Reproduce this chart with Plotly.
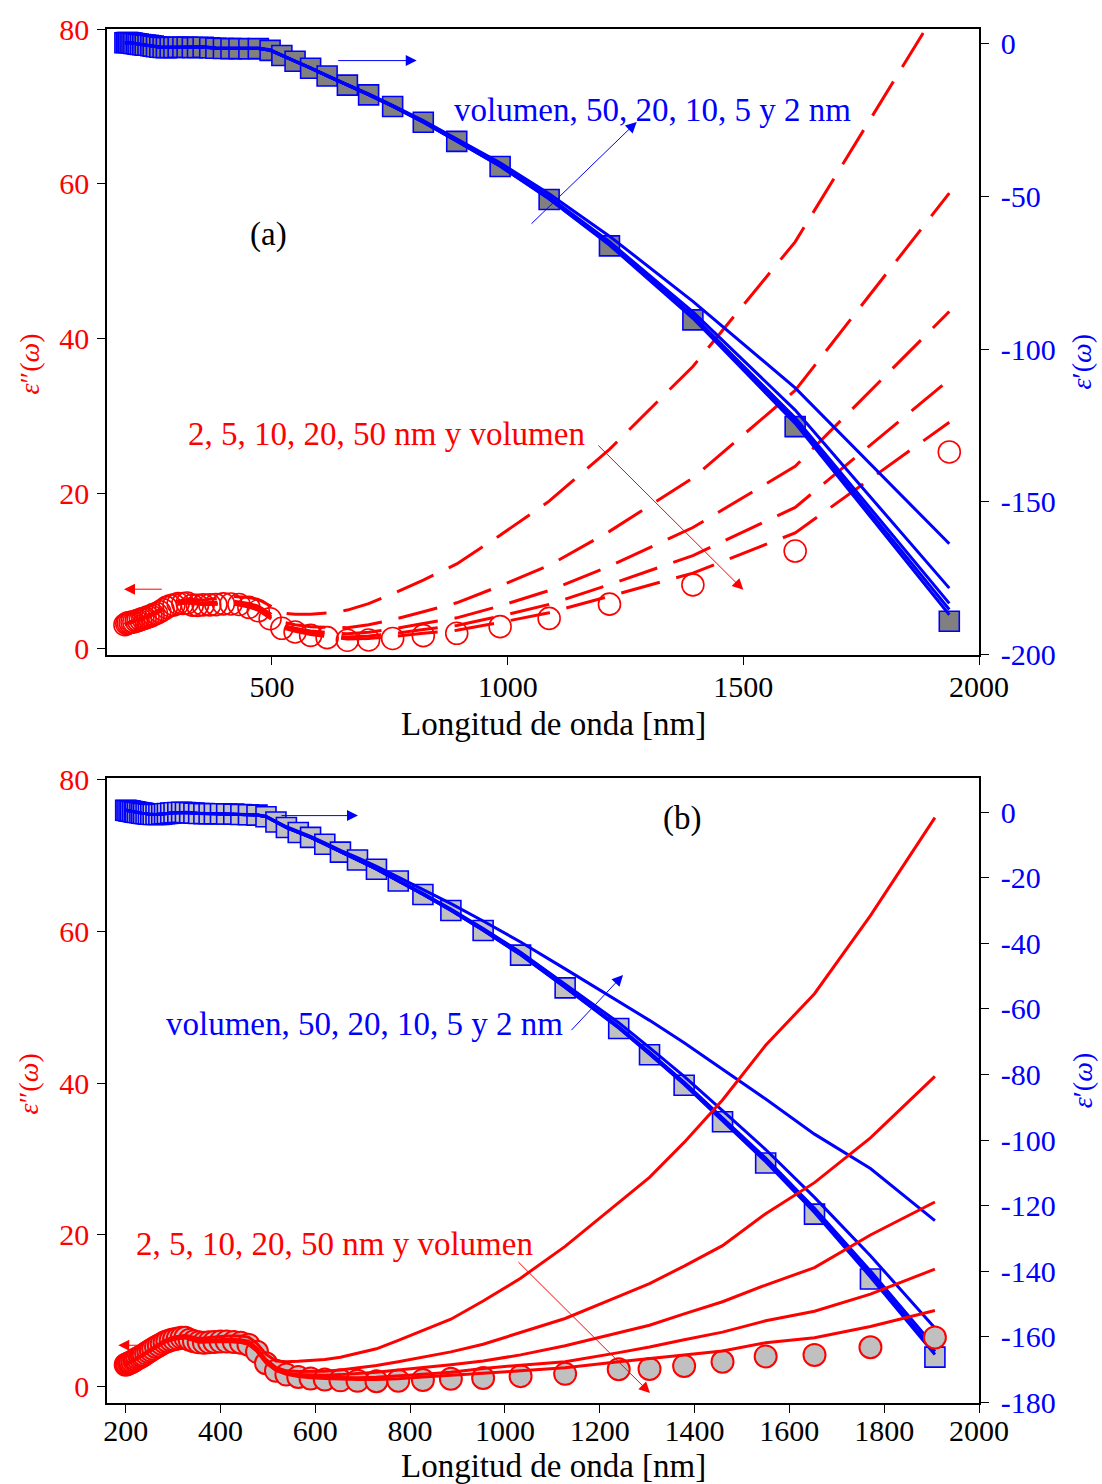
import plotly.graph_objects as go

RED = "#ff0000"
BLUE = "#0000ff"
SERIF = "Liberation Serif"

# ---------------- panel (a): bulk gold, measured ----------------
wl_a = [188, 192, 195, 199, 203, 207, 212, 216, 221, 226, 231, 237, 243, 248, 255,
        262, 269, 276, 284, 292, 301, 311, 320, 331, 342, 354, 368, 381, 397, 413,
        430, 451, 471, 496, 521, 549, 582, 617, 660, 705, 756, 821, 892, 984, 1088,
        1216, 1393, 1610, 1937]
eps_im_a = [3.04, 3.18, 3.29, 3.33, 3.40, 3.39, 3.51, 3.61, 3.71, 3.83, 3.89, 4.06, 4.16, 4.34, 4.49,
            4.72, 4.98, 5.28, 5.49, 5.60, 5.78, 5.79, 5.85, 5.57, 5.54, 5.60, 5.61, 5.64, 5.74, 5.72,
            5.65, 5.28, 4.84, 3.81, 2.58, 2.11, 1.66, 1.37, 1.04, 1.07, 1.27, 1.63, 1.93, 2.79, 3.86,
            5.70, 8.19, 12.56, 25.36]
eps_re_a = [0.23, 0.30, 0.29, 0.20, 0.14, -0.01, -0.13, -0.23, -0.35, -0.42, -0.55, -0.62, -0.74, -0.89, -1.08,
            -1.24, -1.35, -1.37, -1.33, -1.31, -1.23, -1.24, -1.23, -1.36, -1.31, -1.23, -1.40, -1.60, -1.65, -1.70,
            -1.69, -1.76, -1.70, -2.28, -3.95, -5.84, -8.11, -10.66, -13.65, -16.82, -20.61, -25.81, -32.04, -40.27, -51.05,
            -66.22, -90.43, -125.35, -189.04]

# size-corrected curves for panel (a)
wl_fit_a = [188, 199, 216, 237, 262, 292, 320, 354, 381, 413, 451, 471, 496, 521,
            549, 582, 617, 660, 705, 756, 821, 892, 984, 1088, 1216, 1393, 1610, 1937]
im_a = {
    "2 nm":  [3.13, 3.44, 3.76, 4.25, 4.98, 5.96, 6.32, 6.23, 6.42, 6.71, 6.56, 6.30, 5.50, 4.54,
              4.38, 4.40, 4.57, 4.93, 5.77, 7.03, 8.80, 10.9, 14.6, 19.0, 25.7, 36.4, 52.5, 85.0],
    "5 nm":  [3.08, 3.38, 3.67, 4.14, 4.83, 5.75, 6.04, 5.86, 5.96, 6.13, 5.80, 5.44, 4.50, 3.38,
              3.05, 2.78, 2.70, 2.66, 3.04, 3.69, 4.72, 5.87, 8.05, 10.7, 15.1, 22.0, 33.3, 58.8],
    "10 nm": [3.06, 3.35, 3.64, 4.10, 4.77, 5.67, 5.94, 5.73, 5.80, 5.92, 5.54, 5.14, 4.16, 2.98,
              2.58, 2.22, 2.04, 1.86, 2.06, 2.49, 3.19, 3.93, 5.47, 7.46, 10.6, 15.6, 23.5, 43.5],
    "20 nm": [3.05, 3.34, 3.63, 4.08, 4.75, 5.64, 5.90, 5.66, 5.72, 5.82, 5.41, 4.99, 3.98, 2.78,
              2.35, 1.94, 1.73, 1.44, 1.57, 1.89, 2.42, 2.94, 4.14, 5.67, 8.22, 11.97, 18.2, 34.7],
    "50 nm": [3.04, 3.33, 3.62, 4.07, 4.73, 5.61, 5.87, 5.63, 5.67, 5.76, 5.33, 4.90, 3.88, 2.66,
              2.20, 1.77, 1.50, 1.20, 1.27, 1.52, 1.95, 2.33, 3.33, 4.59, 6.71, 9.71, 14.9, 29.2],
}
re_a = {
    "2 nm":  [0.30, 0.27, -0.15, -0.53, -1.14, -1.20, -1.10, -1.08, -1.44, -1.52, -1.55, -1.47, -2.03, -3.68,
              -5.75, -8.00, -10.52, -13.45, -16.54, -20.23, -25.28, -31.26, -39.06, -49.15, -63.06, -84.36, -112.7, -163.7],
    "5 nm":  [0.26, 0.23, -0.20, -0.58, -1.20, -1.26, -1.17, -1.16, -1.53, -1.62, -1.67, -1.60, -2.17, -3.83,
              -5.80, -8.06, -10.60, -13.56, -16.70, -20.45, -25.58, -31.71, -39.75, -50.24, -64.87, -87.84, -119.95, -178.2],
    "10 nm": [0.25, 0.22, -0.21, -0.60, -1.22, -1.28, -1.20, -1.20, -1.57, -1.66, -1.72, -1.65, -2.22, -3.89,
              -5.82, -8.09, -10.63, -13.60, -16.76, -20.52, -25.69, -31.86, -39.99, -50.62, -65.49, -89.04, -122.45, -183.2],
    "20 nm": [0.24, 0.21, -0.22, -0.61, -1.23, -1.30, -1.22, -1.22, -1.59, -1.68, -1.74, -1.68, -2.25, -3.92,
              -5.83, -8.10, -10.65, -13.62, -16.78, -20.55, -25.73, -31.92, -40.09, -50.77, -65.75, -89.52, -123.45, -185.2],
    "50 nm": [0.23, 0.20, -0.23, -0.62, -1.24, -1.31, -1.23, -1.23, -1.60, -1.70, -1.75, -1.69, -2.27, -3.94,
              -5.84, -8.11, -10.66, -13.63, -16.80, -20.58, -25.77, -31.97, -40.17, -50.89, -65.96, -89.93, -124.30, -186.9],
}

# ---------------- panel (b): bulk gold, second data set ----------------
wl_b = [200, 203, 207, 210, 214, 218, 221, 225, 230, 234,
        238, 243, 248, 253, 258, 264, 270, 276, 282, 288,
        295, 302, 310, 318, 326, 335, 344, 354, 365, 376,
        387, 400, 413, 428, 443, 459, 477, 496, 517, 539,
        564, 590, 620, 653, 689, 729, 775, 827, 886, 954,
        1033, 1127, 1240, 1305, 1378, 1459, 1550, 1653, 1771, 1907]
eps_im_b = [2.9, 3.0, 3.1, 3.2, 3.3, 3.45, 3.6, 3.75, 3.9, 4.05,
            4.2, 4.4, 4.6, 4.8, 5.0, 5.25, 5.45, 5.65, 5.85, 6.0,
            6.15, 6.25, 6.35, 6.45, 6.45, 6.2, 6.0, 5.85, 5.8, 5.85,
            5.9, 5.95, 5.95, 5.9, 5.8, 5.55, 4.6, 3.1, 2.1, 1.6,
            1.3, 1.1, 0.95, 0.85, 0.78, 0.72, 0.8, 0.9, 1.05, 1.15,
            1.4, 1.7, 2.3, 2.35, 2.75, 3.3, 4.0, 4.2, 5.2, 6.5]
eps_re_b = [0.6, 0.5, 0.4, 0.3, 0.2, 0.1, 0.0, -0.1, -0.2, -0.3,
            -0.4, -0.5, -0.6, -0.65, -0.7, -0.7, -0.7, -0.6, -0.5, -0.4,
            -0.3, -0.2, -0.1, -0.05, -0.1, -0.2, -0.3, -0.4, -0.45, -0.5,
            -0.5, -0.5, -0.55, -0.6, -0.7, -0.8, -0.9, -1.4, -3.0, -4.7,
            -6.2, -7.7, -9.8, -12.2, -14.6, -17.4, -21.0, -25.1, -30.0, -36.1,
            -43.6, -53.6, -66.0, -74.0, -83.3, -94.4, -107.0, -122.6, -142.4, -166.2]

wl_fit_b = [200, 210, 221, 234, 248, 264, 282, 302, 326, 354,
            387, 413, 443, 459, 477, 496, 517, 539, 564, 590,
            620, 653, 689, 729, 775, 827, 886, 954, 1033, 1127,
            1240, 1305, 1378, 1459, 1550, 1653, 1771, 1907]
im_b = {
    "2 nm":  [2.99, 3.3, 3.72, 4.19, 4.77, 5.45, 6.1, 6.55, 6.8, 6.35,
              6.5, 6.7, 6.7, 6.55, 5.7, 4.3, 3.4, 3.3, 3.35, 3.45,
              3.6, 3.9, 4.4, 5.0, 6.1, 7.4, 8.9, 11.3, 14.3, 18.5,
              24.2, 27.6, 32.2, 37.8, 45.0, 51.8, 62.1, 75.0],
    "5 nm":  [2.94, 3.24, 3.65, 4.11, 4.67, 5.33, 5.95, 6.37, 6.6, 6.07,
              6.15, 6.25, 6.2, 6.0, 5.1, 3.6, 2.55, 2.1, 2.0, 2.0,
              2.05, 2.2, 2.45, 2.8, 3.3, 3.9, 4.6, 5.6, 7.2, 9.0,
              11.9, 13.6, 15.9, 18.6, 22.8, 26.9, 32.8, 40.9],
    "10 nm": [2.92, 3.22, 3.62, 4.08, 4.63, 5.29, 5.9, 6.31, 6.52, 5.97,
              6.02, 6.1, 5.98, 5.75, 4.85, 3.35, 2.3, 1.8, 1.6, 1.52,
              1.52, 1.6, 1.75, 1.9, 2.2, 2.5, 2.9, 3.4, 4.2, 5.4,
              7.1, 8.1, 9.6, 11.2, 13.4, 15.7, 20.0, 24.35],
    "20 nm": [2.91, 3.21, 3.61, 4.07, 4.62, 5.27, 5.88, 6.28, 6.48, 5.92,
              5.96, 6.02, 5.89, 5.65, 4.72, 3.2, 2.2, 1.7, 1.45, 1.3,
              1.25, 1.2, 1.2, 1.25, 1.4, 1.65, 1.9, 2.4, 2.85, 3.3,
              4.5, 5.25, 6.2, 7.2, 8.7, 9.95, 12.2, 15.5],
    "50 nm": [2.9, 3.2, 3.6, 4.06, 4.61, 5.26, 5.86, 6.26, 6.46, 5.88,
              5.93, 5.98, 5.84, 5.6, 4.65, 3.15, 2.15, 1.64, 1.36, 1.18,
              1.08, 1.0, 0.95, 0.95, 1.05, 1.3, 1.5, 1.78, 2.1, 2.5,
              3.3, 3.73, 4.2, 4.7, 5.8, 6.45, 7.95, 10.05],
}
re_b = {
    "2 nm":  [0.61, 0.31, 0.01, -0.29, -0.58, -0.68, -0.48, -0.17, -0.06, -0.35,
              -0.44, -0.48, -0.62, -0.7, -0.78, -1.25, -2.8, -4.45, -5.9, -7.35,
              -9.35, -11.65, -13.9, -16.5, -19.8, -23.5, -27.9, -33.2, -39.6, -47.8,
              -57.6, -63.5, -70.3, -78.4, -87.5, -98.2, -108.7, -124.6],
    "5 nm":  [0.6, 0.3, 0.01, -0.29, -0.59, -0.69, -0.49, -0.18, -0.08, -0.37,
              -0.47, -0.52, -0.67, -0.77, -0.87, -1.36, -2.96, -4.65, -6.14, -7.63,
              -9.71, -12.08, -14.45, -17.21, -20.75, -24.76, -29.56, -35.5, -42.76, -52.4,
              -64.2, -71.8, -80.6, -91.0, -102.9, -117.5, -135.3, -157.3],
    "10 nm": [0.6, 0.3, 0.0, -0.3, -0.6, -0.7, -0.5, -0.19, -0.09, -0.39,
              -0.49, -0.54, -0.69, -0.79, -0.89, -1.39, -2.99, -4.68, -6.18, -7.68,
              -9.77, -12.16, -14.55, -17.33, -20.9, -24.98, -29.85, -35.9, -43.3, -53.2,
              -65.4, -73.2, -82.3, -93.2, -105.5, -120.8, -139.9, -163.1],
    "20 nm": [0.6, 0.3, 0.0, -0.3, -0.6, -0.7, -0.5, -0.2, -0.1, -0.4,
              -0.5, -0.55, -0.7, -0.8, -0.9, -1.39, -2.99, -4.69, -6.19, -7.69,
              -9.78, -12.18, -14.57, -17.36, -20.95, -25.03, -29.91, -35.98, -43.44, -53.36,
              -65.66, -73.6, -82.8, -93.75, -106.2, -121.6, -141.0, -164.5],
    "50 nm": [0.6, 0.3, 0.0, -0.3, -0.6, -0.7, -0.5, -0.2, -0.1, -0.4,
              -0.5, -0.55, -0.7, -0.8, -0.9, -1.4, -3.0, -4.7, -6.19, -7.69,
              -9.79, -12.19, -14.59, -17.38, -20.98, -25.07, -29.96, -36.04, -43.52, -53.49,
              -65.84, -73.8, -83.05, -94.1, -106.6, -122.1, -141.75, -165.4],
}

xticks_a = [500, 1000, 1500, 2000]
xticks_b = [200, 400, 600, 800, 1000, 1200, 1400, 1600, 1800, 2000]
im_ticks = [0, 20, 40, 60, 80]
re_ticks_a = [0, -50, -100, -150, -200]
re_ticks_b = [0, -20, -40, -60, -80, -100, -120, -140, -160, -180]

fig = go.Figure()

# ---- panel (a) ----
fig.add_trace(go.Scatter(
    x=wl_a, y=eps_im_a, xaxis="x", yaxis="y", mode="markers",
    marker=dict(symbol="circle", size=22, color="rgba(0,0,0,0)",
                line=dict(color=RED, width=1.6))))
for name, vals in im_a.items():
    fig.add_trace(go.Scatter(
        x=wl_fit_a, y=vals, xaxis="x", yaxis="y", mode="lines", name=name,
        line=dict(color=RED, width=3, dash="40px,17px")))
fig.add_trace(go.Scatter(
    x=wl_a, y=eps_re_a, xaxis="x", yaxis="y2", mode="markers",
    marker=dict(symbol="square", size=20, color="#808080",
                line=dict(color=BLUE, width=1.6))))
for name, vals in re_a.items():
    fig.add_trace(go.Scatter(
        x=wl_fit_a, y=vals, xaxis="x", yaxis="y2", mode="lines", name=name,
        line=dict(color=BLUE, width=3)))

# ---- panel (b) ----
fig.add_trace(go.Scatter(
    x=wl_b, y=eps_re_b, xaxis="x2", yaxis="y3", mode="markers",
    marker=dict(symbol="square", size=20, color="#c0c0c0",
                line=dict(color=BLUE, width=1.6))))
for name, vals in re_b.items():
    fig.add_trace(go.Scatter(
        x=wl_fit_b, y=vals, xaxis="x2", yaxis="y3", mode="lines", name=name,
        line=dict(color=BLUE, width=3)))
fig.add_trace(go.Scatter(
    x=wl_b, y=eps_im_b, xaxis="x2", yaxis="y4", mode="markers",
    marker=dict(symbol="circle", size=22, color="#c0c0c0",
                line=dict(color=RED, width=2))))
for name, vals in im_b.items():
    fig.add_trace(go.Scatter(
        x=wl_fit_b, y=vals, xaxis="x2", yaxis="y4", mode="lines", name=name,
        line=dict(color=RED, width=3)))

axis_common = dict(showline=True, linecolor="black", linewidth=1.5, ticks="outside",
                   ticklen=8, tickwidth=1.2, tickcolor="black", showgrid=False,
                   zeroline=False)

TOP = [0.54457, 1.0]
BOT = [0.0, 0.45507]

fig.update_layout(
    width=1102, height=1484,
    margin=dict(l=107, r=123, t=23, b=81),
    paper_bgcolor="white", plot_bgcolor="white", showlegend=False,
    font=dict(family=SERIF, size=30, color="black"),
    xaxis=dict(axis_common, domain=[0, 1], anchor="y", range=[150, 2000], mirror=True,
               tickvals=xticks_a, ticklabelstandoff=-4,
               tickfont=dict(family=SERIF, size=30, color="black")),
    yaxis=dict(axis_common, domain=TOP, anchor="x", range=[-0.84, 80], side="left",
               tickvals=im_ticks, ticklabelstandoff=2,
               tickfont=dict(family=SERIF, size=30, color=RED)),
    yaxis2=dict(axis_common, overlaying="y", anchor="x", side="right", range=[-200, 4.72],
                tickvals=re_ticks_a, ticktext=[str(v) for v in re_ticks_a], ticklabelstandoff=6,
                tickfont=dict(family=SERIF, size=30, color=BLUE)),
    xaxis2=dict(axis_common, domain=[0, 1], anchor="y3", range=[160.6, 2000], mirror=True,
                tickvals=xticks_b, ticklabelstandoff=-8,
                tickfont=dict(family=SERIF, size=30, color="black")),
    yaxis3=dict(axis_common, domain=BOT, anchor="x2", side="right", range=[-180.2, 10.5],
                tickvals=re_ticks_b, ticktext=[str(v) for v in re_ticks_b], ticklabelstandoff=6,
                tickfont=dict(family=SERIF, size=30, color=BLUE)),
    yaxis4=dict(axis_common, overlaying="y3", anchor="x2", side="left", range=[-2.14, 80.26],
                tickvals=im_ticks, ticklabelstandoff=2,
                tickfont=dict(family=SERIF, size=30, color=RED)),
)

TXT = 33
ann = []


def label(text, x, y, xref, yref, color, xanchor="left", size=TXT):
    ann.append(dict(text=text, x=x, y=y, xref=xref, yref=yref, showarrow=False,
                    xanchor=xanchor, yanchor="middle",
                    font=dict(family=SERIF, size=size, color=color)))


def arrow(x0, y0, x1, y1, xref, yref, color):
    ann.append(dict(text="", x=x1, y=y1, ax=x0, ay=y0, xref=xref, yref=yref,
                    axref=xref, ayref=yref, showarrow=True, arrowhead=2,
                    arrowsize=2.2, arrowwidth=1, arrowcolor=color, standoff=0))


# panel (a) annotations
label("(a)", 491.6, 53.4, "x", "y", "black", xanchor="center")
label("volumen, 50, 20, 10, 5 y 2 nm", 882, 69.6, "x", "y", BLUE)
arrow(1047.4, 54.66, 1273.8, 68.0, "x", "y", BLUE)
arrow(637.3, 75.92, 807.1, 75.92, "x", "y", BLUE)
label("2, 5, 10, 20, 50 nm y volumen", 317.6, 27.65, "x", "y", RED)
arrow(1189, 26.4, 1500, 7.55, "x", "y", RED)
arrow(269.4, 7.63, 186.1, 7.63, "x", "y", RED)

# panel (b) annotations
label("(b)", 1373.5, 74.9, "x2", "y4", "black", xanchor="center")
label("volumen, 50, 20, 10, 5 y 2 nm", 280.8, 47.85, "x2", "y4", BLUE)
arrow(1137.3, 46.8, 1249.1, 54.26, "x2", "y4", BLUE)
arrow(525.5, 75.27, 690, 75.27, "x2", "y4", BLUE)
label("2, 5, 10, 20, 50 nm y volumen", 217.6, 18.86, "x2", "y4", RED)
arrow(1025.4, 16.62, 1306.0, -0.83, "x2", "y4", RED)
arrow(237.2, 5.47, 184.4, 5.47, "x2", "y4", RED)

# axis titles
EPS2 = "<i>ε</i>″(<i>ω</i>)"
EPS1 = "<i>ε</i>′(<i>ω</i>)"
for text, x, y, color in [(EPS2, -0.0883, 0.7558, RED), (EPS1, 1.1181, 0.7580, BLUE),
                          (EPS2, -0.0906, 0.2326, RED), (EPS1, 1.1181, 0.2348, BLUE)]:
    ann.append(dict(text=text, x=x, y=y, xref="paper", yref="paper", showarrow=False,
                    textangle=-90, xanchor="center", yanchor="middle",
                    font=dict(family=SERIF, size=28, color=color)))
for y in [0.4942, -0.0457]:
    ann.append(dict(text="Longitud de onda [nm]", x=0.5115, y=y, xref="paper", yref="paper",
                    showarrow=False, xanchor="center", yanchor="middle",
                    font=dict(family=SERIF, size=TXT, color="black")))

fig.update_layout(annotations=ann)
fig.write_html("out.html")
